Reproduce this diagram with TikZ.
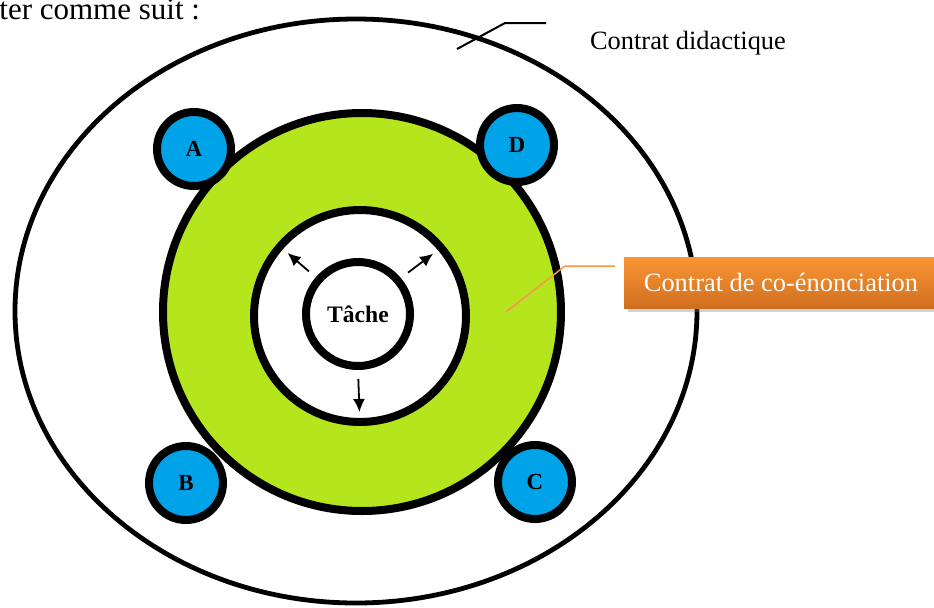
\documentclass[tikz,border=0pt]{standalone}
\usepackage{fontspec}
\setmainfont{Liberation Serif}
\usetikzlibrary{arrows.meta,shapes.geometric,shadows}
\definecolor{cdblue}{RGB}{0,162,232}
\definecolor{cdgreen}{RGB}{181,230,29}
\definecolor{cdorange}{RGB}{247,150,70}
\definecolor{cdorangetop}{RGB}{250,150,52}
\definecolor{cdorangebot}{RGB}{208,110,32}

\begin{document}
\begin{tikzpicture}[x=0.5pt,y=-0.5pt,>={Latex[length=6.5pt,width=6pt]},every node/.style={align=center},
    lettre/.style={draw,circle,line width=4pt,fill=cdblue,minimum size=37pt,inner sep=0pt,font=\bfseries\fontsize{11.5}{13}\selectfont}]
    \useasboundingbox (0,0) rectangle (934,607);
    \node[anchor=base west,inner sep=0pt,font=\fontsize{15.5}{18}\selectfont] (intro) at (-1,19) {ter comme suit :};
    \node[draw,ellipse,line width=2.4pt,minimum width=341pt,minimum height=292pt,inner sep=0pt] (didac) at (356,311) {};
    \node[draw,circle,line width=4pt,fill=cdgreen,minimum size=199pt,inner sep=0pt] (coenon) at (362,312) {};
    \node[draw,circle,line width=4pt,fill=white,minimum size=106pt,inner sep=0pt] (interne) at (360,316) {};
    \node[draw,circle,line width=4pt,minimum size=52pt,inner sep=0pt,font=\bfseries\fontsize{11.8}{13}\selectfont] (tache) at (358,314) {Tâche};
    \node[lettre] (A) at (194,149) {A};
    \node[lettre] (D) at (517,145) {D};
    \node[lettre] (B) at (186,483) {B};
    \node[lettre] (C) at (535,482) {C};
    \draw[->,line width=0.9pt,shorten <=4.5pt,shorten >=7pt] (tache.139) -- (interne.139);
    \draw[->,line width=0.9pt,shorten <=4.5pt,shorten >=7pt] (tache.40) -- (interne.40);
    \draw[->,line width=0.9pt,shorten <=4.5pt,shorten >=7pt] (tache.270) -- (interne.270);
    % labels
    \node[font=\fontsize{13.2}{15}\selectfont] (didaclabel) at (688,43) {Contrat didactique};
    \coordinate (didtip) at (457,49);
    \coordinate (didbend) at (505,23);
    \coordinate (didend) at (546,23);
    \draw[line width=1pt] (didtip) -- (didbend) -- (didend);
    \node[shade,top color=cdorangetop,bottom color=cdorangebot,drop shadow={shadow xshift=2pt,shadow yshift=-2pt,opacity=.35},
        minimum width=157pt,minimum height=25.5pt,inner sep=0pt,text=white,font=\fontsize{13.2}{15}\selectfont] (coenlabel) at (781,282.5) {Contrat de co-énonciation};
    \coordinate (cotip) at (506,312);
    \coordinate (cobend) at (565,266);
    \coordinate (coend) at (615,266);
    \draw[cdorange,line width=0.75pt] (cotip) -- (cobend) -- (coend);
  \end{tikzpicture}
\end{document}
